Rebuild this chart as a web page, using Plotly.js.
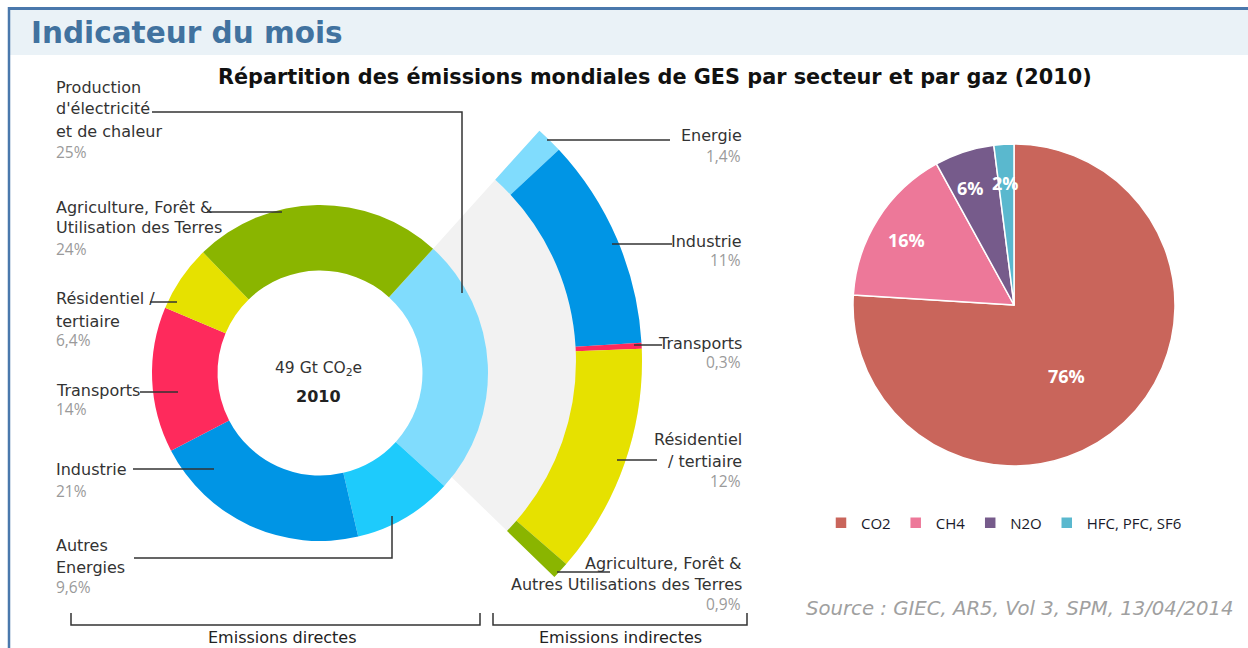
<!DOCTYPE html>
<html><head><meta charset="utf-8">
<script src="https://cdn.plot.ly/plotly-3.0.1.min.js"></script>
<style>html,body{margin:0;padding:0;overflow:hidden;background:#fff;width:1248px;height:648px}#chart{width:1248px;height:680px}</style>
</head><body><div id="chart"></div>
<script>
// ---------- data ----------
const directSectors = ["Production d'électricité et de chaleur", "Autres Energies", "Industrie", "Transports", "Résidentiel / tertiaire", "Agriculture, Forêt & Utilisation des Terres"];
const directShares = [25, 9.6, 21, 14, 6.4, 24];
const directLabelLines = [["Production", "d'électricité", "et de chaleur"], ["Autres", "Energies"], ["Industrie"], ["Transports"], ["Résidentiel /", "tertiaire"], ["Agriculture, Forêt &", "Utilisation des Terres"]];
const indirectSectors = ["Energie", "Industrie", "Transports", "Résidentiel / tertiaire", "Agriculture, Forêt & Autres Utilisations des Terres"];
const indirectShares = [1.4, 11, 0.3, 12, 0.9];
const indirectLabelLines = [["Energie"], ["Industrie"], ["Transports"], ["Résidentiel", "/ tertiaire"], ["Agriculture, Forêt &", "Autres Utilisations des Terres"]];
const gases = ["CO2", "CH4", "N2O", "HFC, PFC, SF6"];
const gasShares = [76, 16, 6, 2];
const totalText = "49 Gt CO<sub>2</sub>e";
const yearText = "2010";
const groupLabels = ["Emissions directes", "Emissions indirectes"];
const headerText = "Indicateur du mois";
const titleText = "Répartition des émissions mondiales de GES par secteur et par gaz (2010)";
const sourceText = "Source : GIEC, AR5, Vol 3, SPM, 13/04/2014";

// ---------- styles ----------
const directColors = ["#80dcfd", "#1ecbfc", "#0095e5", "#fe2a5c", "#e6e100", "#8ab500"];
const indirectColors = ["#80dcfd", "#0095e5", "#fe2a5c", "#e6e100", "#8ab500"];
const gasColors = ["#c9655b", "#ed7899", "#765b8b", "#5ab8ce"];
const FONT = "DejaVu Sans, Open Sans, sans-serif";
const NUMFONT = "Open Sans, DejaVu Sans, sans-serif";

const W = 1248, H = 680;
function dom(cx, cy, r) { return {x: [(cx - r) / W, (cx + r) / W], y: [1 - (cy + r) / H, 1 - (cy - r) / H]}; }
const X = x => x / W, Y = y => 1 - y / H;
function pct(v) { return String(v).replace('.', ',') + '%'; }
function path(pts) { return pts.map((p, i) => (i ? 'L' : 'M') + X(p[0]) + ',' + Y(p[1])).join(' '); }

const indirectTotal = indirectShares.reduce((a, b) => a + b, 0);
const transparent = 'rgba(0,0,0,0)';

const arcDomain = dom(332, 361, 310);
const traces = [
  { // grey link wedge
    type: 'pie', values: [indirectTotal, 100 - indirectTotal], labels: ['lien', 'reste'],
    marker: {colors: ['#f2f2f2', transparent], line: {width: 0}},
    sort: false, direction: 'clockwise', rotation: 42, hole: 0.42,
    domain: arcDomain, textinfo: 'none', hoverinfo: 'skip', showlegend: false
  },
  { // indirect arc
    type: 'pie', values: indirectShares.concat([100 - indirectTotal]), labels: indirectSectors.concat(['reste']),
    marker: {colors: indirectColors.concat([transparent]), line: {width: 0}},
    sort: false, direction: 'clockwise', rotation: 42, hole: 0.787,
    domain: arcDomain, textinfo: 'none', hoverinfo: 'skip', showlegend: false
  },
  { // direct donut
    type: 'pie', values: directShares, labels: directSectors,
    marker: {colors: directColors, line: {width: 0}},
    sort: false, direction: 'clockwise', rotation: 42.3, hole: 0.61,
    domain: dom(320, 373, 168), textinfo: 'none', hoverinfo: 'label+value', showlegend: false
  },
  { // gases
    type: 'pie', values: gasShares, labels: gases,
    marker: {colors: gasColors, line: {width: 1.5, color: '#ffffff'}},
    sort: false, direction: 'clockwise', rotation: 0,
    domain: dom(1014, 305, 161),
    textinfo: 'none', hoverinfo: 'label+percent', showlegend: true
  }
];

const shapes = [];
const annotations = [];
const lineStyle = {color: '#333333', width: 1.5};
function addLine(pts) { shapes.push({type: 'path', xref: 'paper', yref: 'paper', path: path(pts), line: lineStyle, layer: 'above'}); }
function addText(x, y, text, anchor, font) {
  annotations.push({xref: 'paper', yref: 'paper', x: X(x), y: Y(y), text: text, showarrow: false,
    xanchor: anchor, yanchor: 'middle', font: Object.assign({family: FONT, size: 16, color: '#333333'}, font || {})});
}

// header frame
shapes.push({type: 'rect', xref: 'paper', yref: 'paper', x0: X(10), x1: X(1248), y0: Y(10), y1: Y(55), fillcolor: '#eaf2f7', line: {width: 0}, layer: 'below'});
shapes.push({type: 'line', xref: 'paper', yref: 'paper', x0: X(8), x1: X(1248), y0: Y(8.5), y1: Y(8.5), line: {color: '#4a78ac', width: 3}, layer: 'above'});
shapes.push({type: 'line', xref: 'paper', yref: 'paper', x0: X(9), x1: X(9), y0: Y(7), y1: Y(680), line: {color: '#4a78ac', width: 2.5}, layer: 'above'});
addText(29, 33, headerText, 'left', {size: 29.5, color: '#41729f', weight: 'bold'});
addText(655, 77, titleText, 'center', {size: 20.8, color: '#111111', weight: 'bold'});

// left (direct) labels
const leftLayout = {
  0: {ys: [87, 109, 131], py: 152, lead: [[152, 112], [462, 112], [462, 293]]},
  5: {ys: [207, 228], py: 249, lead: [[207, 212], [282, 212]]},
  4: {ys: [298, 321], py: 340, lead: [[150, 302], [177, 302]]},
  3: {ys: [391], py: 409, lead: [[140, 392], [178, 392]]},
  2: {ys: [469], py: 491, lead: [[133, 469], [214, 469]]},
  1: {ys: [545, 567], py: 587, lead: [[134, 558], [392, 558], [392, 516]]}
};
directShares.forEach((v, i) => {
  const L = leftLayout[i];
  directLabelLines[i].forEach((t, k) => addText(54, L.ys[k], t, 'left'));
  addText(54, L.py, pct(v), 'left', {family: NUMFONT, size: 15.5, color: '#9a9a9a'});
  addLine(L.lead);
});

// right (indirect) labels
const rightLayout = [
  {ys: [136], py: 156, lead: [[547, 140], [670, 140]]},
  {ys: [241], py: 260, lead: [[612, 244], [672, 244]]},
  {ys: [343], py: 362, lead: [[634, 345], [662, 345]]},
  {ys: [439, 461], py: 481, lead: [[617, 460], [657, 460]]},
  {ys: [563, 584], py: 604, lead: [[557, 572], [610, 572]]}
];
indirectShares.forEach((v, i) => {
  const L = rightLayout[i];
  indirectLabelLines[i].forEach((t, k) => addText(744, L.ys[k], t, 'right'));
  addText(743, L.py, pct(v), 'right', {family: NUMFONT, size: 15.5, color: '#9a9a9a'});
  addLine(L.lead);
});

// donut centre
addText(318, 369, totalText, 'center', {size: 15.5});
addText(318, 396, yearText, 'center', {size: 16, color: '#222222', weight: 'bold'});

// gas pie percentages
const gasLabelPos = [[1066, 376], [906, 240], [970, 188], [1005, 183]];
gasShares.forEach((v, i) => addText(gasLabelPos[i][0], gasLabelPos[i][1], pct(v), 'center',
  {family: NUMFONT, size: 18, color: '#ffffff', weight: 'bold'}));

// brackets
addLine([[71, 613], [71, 625], [480, 625], [480, 613]]);
addLine([[493, 613], [493, 625], [747, 625], [747, 613]]);
addText(282, 637, groupLabels[0], 'center', {color: '#222222'});
addText(620, 637, groupLabels[1], 'center', {color: '#222222'});

// source
addText(1236, 608, sourceText, 'right', {size: 19.7, color: '#a0a0a0', style: 'italic'});

const layout = {
  width: W, height: H,
  margin: {l: 0, r: 0, t: 0, b: 0, pad: 0},
  paper_bgcolor: '#ffffff', plot_bgcolor: '#ffffff',
  showlegend: true,
  legend: {orientation: 'h', x: X(1004), xanchor: 'center', y: Y(523), yanchor: 'middle',
    itemwidth: 30,
    font: {family: NUMFONT, size: 15, color: '#1a1a2a'}, bgcolor: transparent, itemclick: false, itemdoubleclick: false},
  shapes: shapes, annotations: annotations
};
Plotly.newPlot('chart', traces, layout, {displayModeBar: false, staticPlot: true});
</script></body></html>
